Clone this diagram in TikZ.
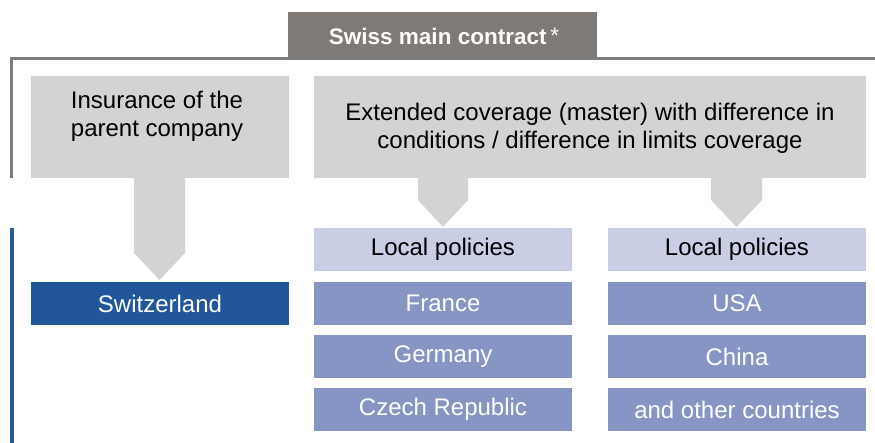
\documentclass[tikz,border=0pt]{standalone}
\usepackage{fontspec}
\setmainfont{Liberation Sans}
\usetikzlibrary{calc}
\definecolor{headgray}{HTML}{7F7A76}
\definecolor{framegray}{HTML}{7D7D7D}
\definecolor{boxgray}{HTML}{D3D3D3}
\definecolor{lavender}{HTML}{C9CEE5}
\definecolor{midblue}{HTML}{8795C4}
\definecolor{darkblue}{HTML}{21579A}
\definecolor{lineblue}{HTML}{2A5A9A}
\begin{document}
\begin{tikzpicture}[x=1pt,y=-1pt,
  bodyfont/.style={font=\fontsize{24}{28}\selectfont},
  plate/.style={anchor=north west,inner sep=0pt,outer sep=0pt,draw=none},
  coverbox/.style={plate,fill=boxgray,minimum width=258,minimum height=102},
  headbox/.style={plate,fill=lavender,minimum width=258,minimum height=43,bodyfont,text=black},
  countrybox/.style={plate,fill=midblue,minimum width=258,minimum height=43,bodyfont,text=white},
  homebox/.style={plate,fill=darkblue,minimum width=258,minimum height=43,bodyfont,text=white},
  pointer/.style={fill=boxgray}]
\useasboundingbox (0,0) rectangle (875,443);

% contract frame
\coordinate (frameTop) at (11.5,59);
\coordinate (frameEnd) at (875,59);
\coordinate (frameBot) at (11.5,178);
\draw[framegray,line width=3pt] (frameBot) -- (frameTop) -- (frameEnd);
\node[plate,fill=headgray,minimum width=309,minimum height=46] (contract) at (288,12) {};
\node[font=\fontsize{22.5}{24}\selectfont,text=white,inner sep=0pt] (contractText) at (444,36)
  {\bfseries Swiss main contract\,{\mdseries\raisebox{1pt}{*}}};

% local frame line
\coordinate (localTop) at (12,228);
\coordinate (localBot) at (12,443);
\draw[lineblue,line width=4pt] (localTop) -- (localBot);

% coverage boxes
\node[coverbox] (parent) at (31,76) {};
\node[coverbox,minimum width=552] (master) at (314,76) {};
\node[bodyfont,align=center,inner sep=0pt] (parentText) at (157,116)
  {Insurance of the\\parent company};
\node[bodyfont,align=center,inner sep=0pt] (masterText) at (590,128)
  {Extended coverage (master) with difference in\\conditions / difference in limits coverage};

% policy rows
\node[homebox] (ch) at (31,282) {Switzerland};
\node[headbox] (lpA) at (314,228) {Local policies};
\node[countrybox] (fr) at (314,282) {France};
\node[countrybox] (de) at (314,335) {Germany};
\node[countrybox] (cz) at (314,388) {Czech Republic};
\node[headbox] (lpB) at (608,228) {Local policies};
\node[countrybox] (us) at (608,282) {USA};
\node[countrybox] (cn) at (608,335) {China};
\node[countrybox] (oth) at (608,388) {and other countries};

% pointers from coverage boxes down to the policies
\fill[pointer] ($(parent.south west)+(103,0)$) -- ++(51,0) -- ++(0,75)
  -- ($(ch.north west)+(128.5,-2)$) -- ($(parent.south west)+(103,75)$) -- cycle;
\fill[pointer] ($(master.south west)+(104,0)$) -- ++(50,0) -- ++(0,22)
  -- ($(lpA.north west)+(129,-1)$) -- ($(master.south west)+(104,22)$) -- cycle;
\fill[pointer] ($(master.south west)+(397,0)$) -- ++(51,0) -- ++(0,22)
  -- ($(lpB.north west)+(128.5,-1)$) -- ($(master.south west)+(397,22)$) -- cycle;
\end{tikzpicture}
\end{document}
